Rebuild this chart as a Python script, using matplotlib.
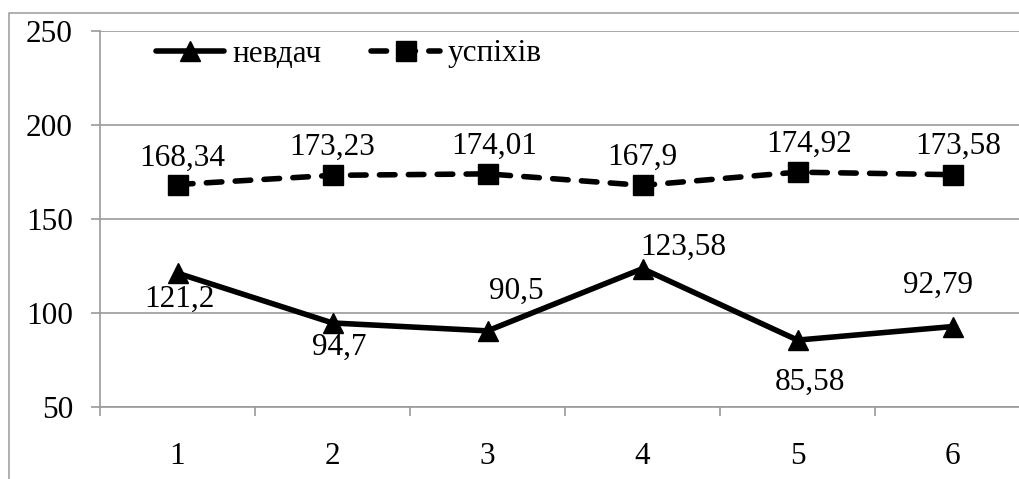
import matplotlib
matplotlib.use("Agg")
import matplotlib.pyplot as plt
from matplotlib.patches import Rectangle

plt.rcParams['font.family'] = ['Liberation Serif', 'DejaVu Serif']

# data
categories = [1, 2, 3, 4, 5, 6]
nevdach = [121.2, 94.7, 90.5, 123.58, 85.58, 92.79]
uspikhiv = [168.34, 173.23, 174.01, 167.9, 174.92, 173.58]
yticks = [50, 100, 150, 200, 250]

# label offsets in pixels (placement only)
nevdach_off = [(2, -26), (7, -24), (29, 40), (41, 21), (12, -42), (-15, 41)]
uspikhiv_off = [(5, 26), (0, 28), (7, 28), (0, 28), (12, 28), (6, 28)]

W, H = 1019, 479
fig = plt.figure(figsize=(W / 100, H / 100), dpi=100)
grey = '#9a9a9a'
fs = 22.5

# outer chart border (cropped at right and bottom)
fig.patches.append(Rectangle((9 / W, -0.1), 1.2, 1 - 13 / H + 0.1,
                             transform=fig.transFigure, fill=False,
                             edgecolor=grey, lw=1.1))

ax = fig.add_axes([100 / W, 1 - 407 / H, 930 / W, 376 / H])

l1, = ax.plot(categories, nevdach, color='black', lw=4, marker='^', ms=14,
              solid_capstyle='round', label='невдач')
l2, = ax.plot(categories, uspikhiv, color='black', lw=4, marker='s', ms=14.5,
              linestyle=(0, (2.8, 2.4)), dash_capstyle='round', label='успіхів')

for x, v, off in zip(categories, nevdach, nevdach_off):
    ax.annotate(str(v).replace('.', ','), (x, v), xytext=off,
                textcoords='offset pixels', ha='center', va='center', fontsize=fs)
for x, v, off in zip(categories, uspikhiv, uspikhiv_off):
    ax.annotate(str(v).replace('.', ','), (x, v), xytext=off,
                textcoords='offset pixels', ha='center', va='center', fontsize=fs)

ax.set_xlim(0.5, 6.5)
ax.set_ylim(50, 250)
ax.set_yticks(yticks)
ax.set_xticks(categories)
ax.set_xticks([c - 0.5 for c in categories] + [6.5], minor=True)
ax.yaxis.grid(True, color=grey, lw=1.2)
ax.set_axisbelow(True)

for s in ['top', 'right']:
    ax.spines[s].set_visible(False)
for s in ['left', 'bottom']:
    ax.spines[s].set_color(grey)
    ax.spines[s].set_linewidth(1.2)

ax.tick_params(axis='y', length=6.5, width=1.2, color=grey, pad=13, labelsize=fs)
ax.tick_params(axis='x', which='major', length=0, pad=25, labelsize=fs)
ax.tick_params(axis='x', which='minor', length=6.5, width=1.2, color=grey)

ax.legend(handles=[l1, l2], loc='center left', bbox_to_anchor=(140 / W, 1 - 54 / H),
          bbox_transform=fig.transFigure, ncol=2, frameon=False, fontsize=fs,
          borderpad=0, handlelength=2.2, handletextpad=0.25, columnspacing=1.6)

fig.savefig('out.png', dpi=100)
